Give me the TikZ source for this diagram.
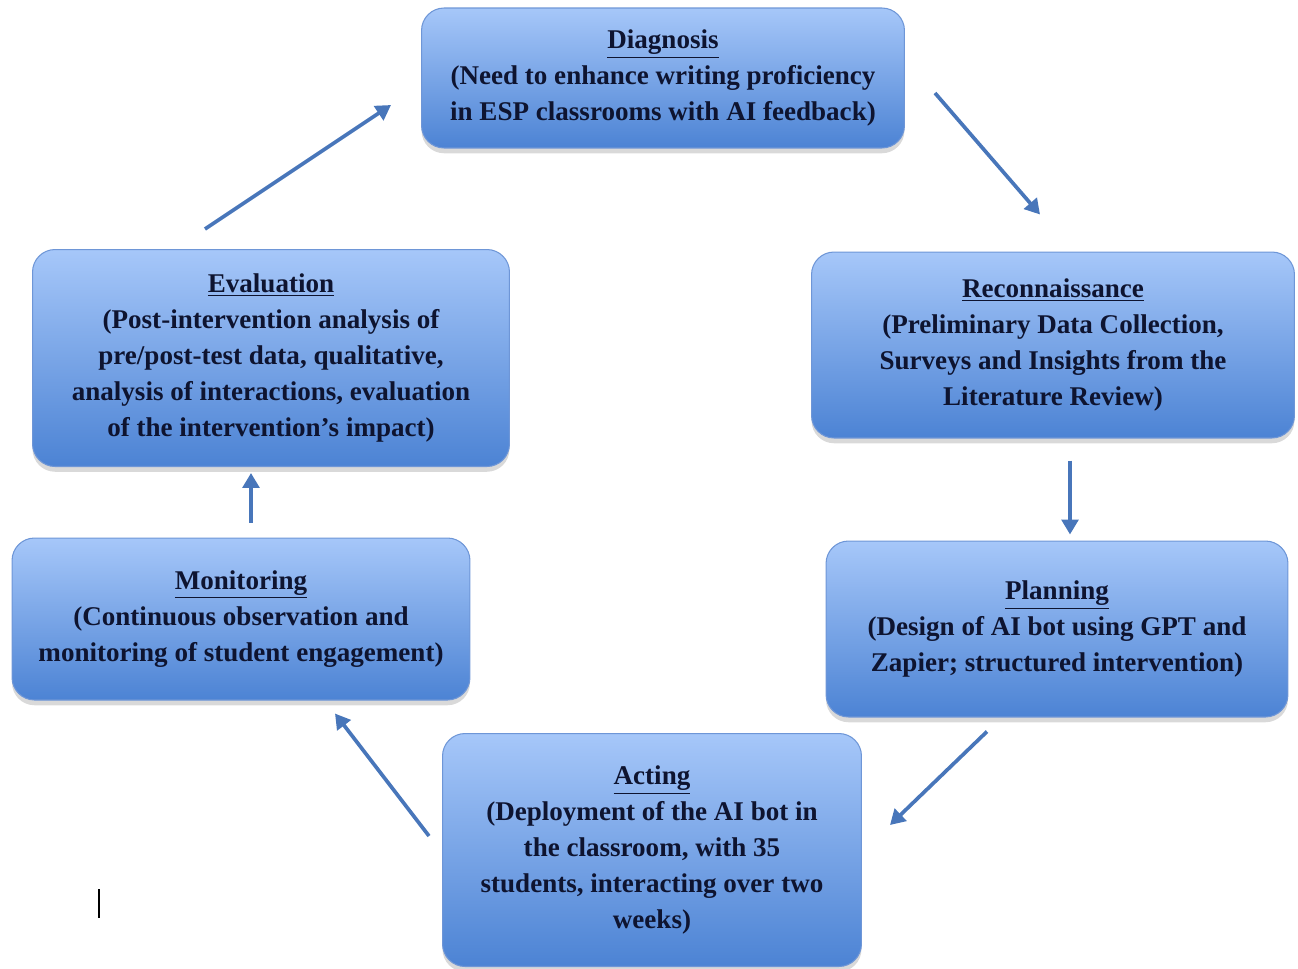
\documentclass[tikz,border=0pt]{standalone}
\usepackage{fontspec}
\setmainfont{Liberation Serif}
\usepackage{tikz}
\usetikzlibrary{shadows,arrows.meta,calc}
\definecolor{boxtop}{RGB}{166,199,249}
\definecolor{boxbot}{RGB}{76,131,212}
\definecolor{boxline}{RGB}{110,150,215}
\definecolor{ink}{RGB}{14,20,48}
\definecolor{flowblue}{RGB}{72,118,186}
\tikzstyle{stage}=[rectangle,rounded corners=0.45cm,draw=boxline,line width=0.6pt,
  top color=boxtop,bottom color=boxbot,align=center,text=ink,
  font=\fontsize{15.4}{20.5}\selectfont\bfseries,
  drop shadow={opacity=0.3,shadow xshift=0pt,shadow yshift=-3pt}]
\tikzstyle{flow}=[draw=flowblue,line width=2.1pt,-{Triangle[length=8.5pt,width=9.5pt]}]

\begin{document}
\begin{tikzpicture}[x=0.02cm,y=-0.02cm]
        \useasboundingbox (0,0) rectangle (1298,968);
        \node[stage,minimum width=9.66cm,minimum height=2.8cm] (diag) at (663,78)
          {\underline{Diagnosis}\\(Need to enhance writing proficiency\\in ESP classrooms with AI feedback)};
        \node[stage,minimum width=9.66cm,minimum height=3.72cm] (recon) at (1053,345)
          {\underline{Reconnaissance}\\(Preliminary Data Collection,\\Surveys and Insights from the\\Literature Review)};
        \node[stage,minimum width=9.24cm,minimum height=3.52cm] (plan) at (1057,629)
          {\underline{Planning}\\(Design of AI bot using GPT and\\Zapier; structured intervention)};
        \node[stage,minimum width=8.38cm,minimum height=4.66cm] (act) at (652,850)
          {\underline{Acting}\\(Deployment of the AI bot in\\the classroom, with 35\\students, interacting over two\\weeks)};
        \node[stage,minimum width=9.16cm,minimum height=3.24cm] (mon) at (241,619)
          {\underline{Monitoring}\\(Continuous observation and\\monitoring of student engagement)};
        \node[stage,minimum width=9.54cm,minimum height=4.34cm] (eval) at (271,358)
          {\underline{Evaluation}\\(Post-intervention analysis of\\pre/post-test data, qualitative,\\analysis of interactions, evaluation\\of the intervention’s impact)};
        % cycle arrows
        \draw[flow] ($(diag.east)+(30,15)$) -- ($(recon.north)+(-13,-37)$);
        \draw[flow] ($(recon.south)+(17,22)$) -- ($(plan.north)+(13,-6)$);
        \draw[flow] ($(plan.south)+(-70,14)$) -- ($(act.east)+(28,-25)$);
        \draw[flow] ($(act.west)+(-13,-14)$) -- ($(mon.south)+(94,13)$);
        \draw[flow] ($(mon.north)+(10,-15)$) -- ($(eval.south)+(-20,6)$);
        \draw[flow] ($(eval.north)+(-66,-20)$) -- ($(diag.west)+(-30,27)$);
        % stray cursor mark
        \draw[line width=1pt] (99,889) -- (99,918);
\end{tikzpicture}
\end{document}
